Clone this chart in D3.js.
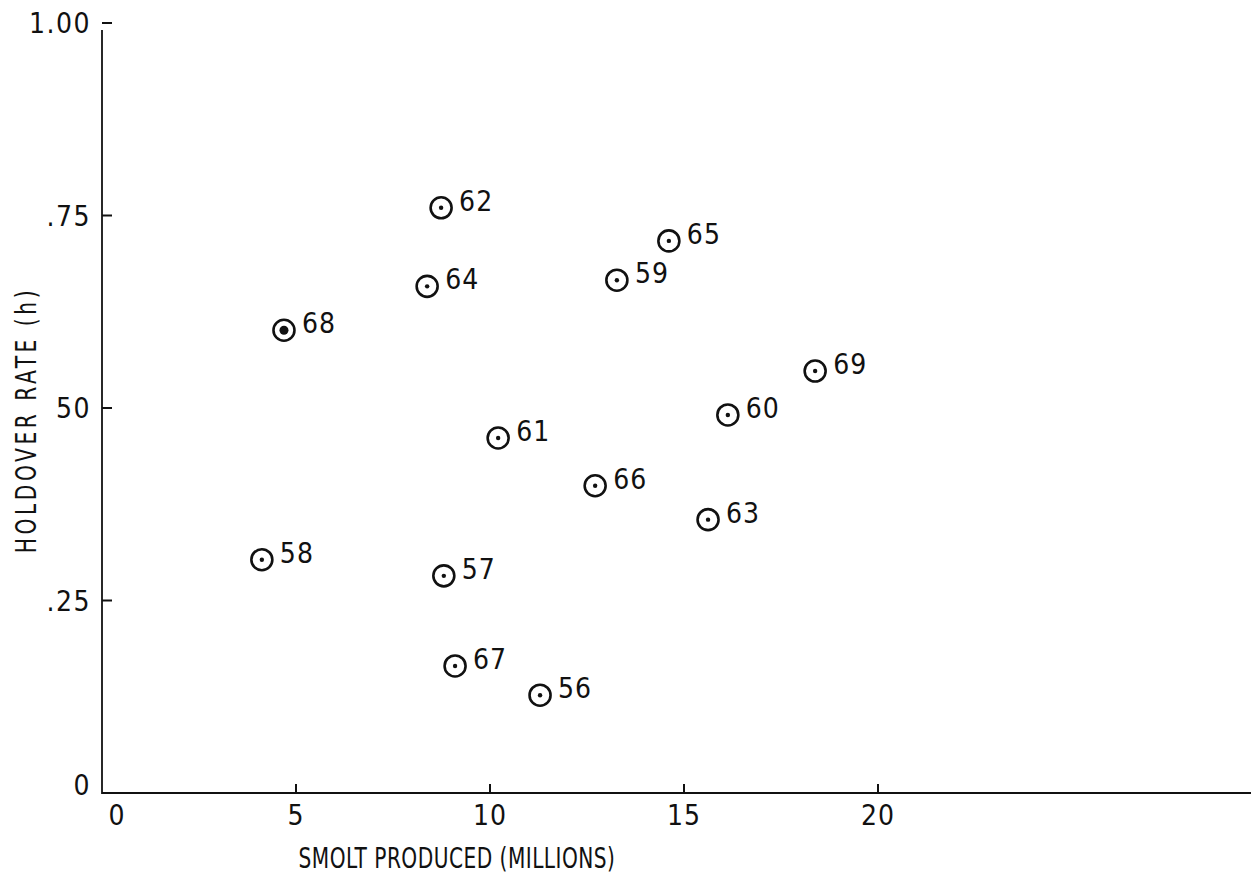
<!DOCTYPE html>
<html>
<head>
<meta charset="utf-8">
<script src="https://cdn.jsdelivr.net/npm/d3@7"></script>
<style>
  html, body { margin: 0; padding: 0; background: #fff; }
  svg { display: block; }
  text { font-family: "DejaVu Sans Condensed", "DejaVu Sans", sans-serif; fill: #111; }
</style>
</head>
<body>
<svg id="chart" width="1251" height="880"></svg>
<script>
// ---- data ----
const years  = ["62","65","64","59","68","69","60","61","66","63","58","57","67","56"];
const smolt  = [8.74, 14.61, 8.38, 13.27, 4.69, 18.38, 16.13, 10.21, 12.71, 15.62, 4.12, 8.81, 9.10, 11.29];
const holdover = [0.760, 0.717, 0.658, 0.666, 0.601, 0.548, 0.491, 0.461, 0.399, 0.355, 0.303, 0.282, 0.165, 0.127];
const solidDot = ["68"];
const xTicks = [0, 5, 10, 15, 20];
const yTicks = [0, 0.25, 0.5, 0.75, 1.0];
const yTickLabels = ["0", ".25", "50", ".75", "1.00"];
const xTitle = "SMOLT PRODUCED (MILLIONS)";
const yTitle = "HOLDOVER RATE (h)";

// ---- layout ----
const svg = d3.select("#chart");
const x0 = 102, y0 = 793;
const x = d3.scaleLinear().domain([0, 20]).range([x0, x0 + 20 * 38.8]);
const y = d3.scaleLinear().domain([0, 1]).range([y0, y0 - 770]);

// x axis line to right edge
svg.append("line")
  .attr("x1", x0).attr("x2", 1251).attr("y1", y0).attr("y2", y0)
  .attr("stroke", "#111").attr("stroke-width", 2.2);
// y axis line
svg.append("line")
  .attr("x1", x0).attr("x2", x0).attr("y1", y0 + 1).attr("y2", y(1) + 7)
  .attr("stroke", "#111").attr("stroke-width", 1.8);

// x ticks (inward) and labels
const xg = svg.append("g");
xg.selectAll("line").data(xTicks.filter(d => d > 0)).join("line")
  .attr("x1", d => x(d)).attr("x2", d => x(d))
  .attr("y1", y0).attr("y2", y0 - 9)
  .attr("stroke", "#111").attr("stroke-width", 2);
xg.selectAll("text").data(xTicks).join("text")
  .attr("x", d => x(d) + (d === 0 ? 15 : 0))
  .attr("y", y0 + 24)
  .attr("text-anchor", "middle")
  .attr("dominant-baseline", "middle")
  .attr("font-size", 28)
  .attr("letter-spacing", 1)
  .text(d => d);

// y ticks (inward) and labels
const yg = svg.append("g");
yg.selectAll("line").data(yTicks.filter(d => d > 0)).join("line")
  .attr("x1", x0).attr("x2", x0 + 10)
  .attr("y1", d => y(d)).attr("y2", d => y(d))
  .attr("stroke", "#111").attr("stroke-width", 2);
yg.selectAll("text").data(yTicks).join("text")
  .attr("x", x0 - 11)
  .attr("y", d => y(d) + (d === 0 ? -6 : 2))
  .attr("text-anchor", "end")
  .attr("dominant-baseline", "middle")
  .attr("font-size", 28)
  .attr("letter-spacing", 1.5)
  .text((d, i) => yTickLabels[i]);

// axis titles (narrow, tall lettering like the original typewriter face)
svg.append("text")
  .attr("transform", "translate(457,860) scale(0.8,1)")
  .attr("text-anchor", "middle")
  .attr("dominant-baseline", "middle")
  .attr("font-size", 28)
  .attr("letter-spacing", 0.6)
  .text(xTitle);
svg.append("text")
  .attr("transform", "translate(28,420) rotate(-90) scale(0.8,1)")
  .attr("text-anchor", "middle")
  .attr("dominant-baseline", "middle")
  .attr("font-size", 28)
  .attr("letter-spacing", 4.5)
  .text(yTitle);

// points
const pts = years.map((yr, i) => ({ yr, sx: smolt[i], h: holdover[i] }));
const pg = svg.append("g").selectAll("g").data(pts).join("g")
  .attr("transform", d => `translate(${x(d.sx)},${y(d.h)})`);
pg.append("circle").attr("r", 10.5)
  .attr("fill", "none").attr("stroke", "#111").attr("stroke-width", 2.6);
pg.append("circle").attr("r", d => solidDot.includes(d.yr) ? 4.5 : 2.2)
  .attr("fill", "#111");
pg.append("text")
  .attr("x", 18).attr("y", -5)
  .attr("dominant-baseline", "middle")
  .attr("font-size", 28)
  .attr("letter-spacing", 1)
  .text(d => d.yr);
</script>
</body>
</html>
